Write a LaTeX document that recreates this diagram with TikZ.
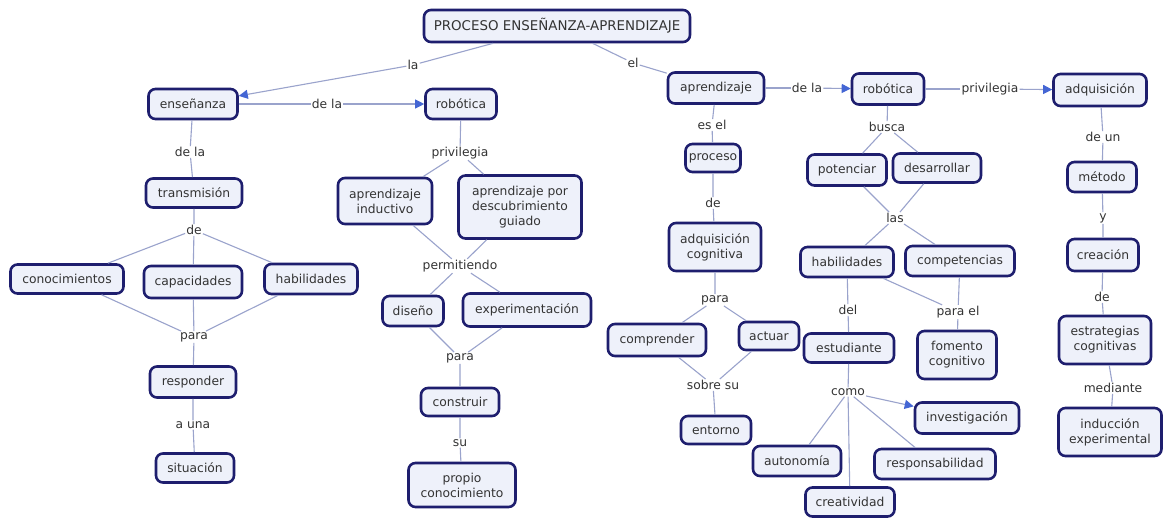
\documentclass[tikz,border=0pt]{standalone}
\usepackage{fontspec}
\setmainfont{DejaVu Sans}
\usetikzlibrary{arrows.meta}

\definecolor{navy}{HTML}{1E1E6E}
\definecolor{boxfill}{HTML}{EEF1FA}
\definecolor{linkgray}{HTML}{9AA3CC}
\definecolor{arrowblue}{HTML}{4466D4}
\definecolor{txt}{HTML}{333333}

\tikzset{
  concept/.style={draw=navy, line width=2.6pt, rounded corners=7pt, fill=boxfill,
    text=txt, font=\fontsize{12.3}{15}\selectfont, align=center, inner sep=0pt},
  linkword/.style={text=txt, font=\fontsize{12.3}{15}\selectfont, inner sep=1pt},
  conn/.style={draw=linkgray, line width=1.1pt},
  arr/.style={conn, -{Triangle[length=9pt,width=9pt,color=arrowblue]}},
}

\begin{document}
\begin{tikzpicture}[x=1pt,y=-1pt]
\fill[white] (0,0) rectangle (1163,519);
\useasboundingbox (0,0) rectangle (1163,519);

% ---------- concepts ----------
\node[concept, minimum width=266, minimum height=32, font=\fontsize{13.4}{15}\selectfont] (title) at (557,26) {PROCESO ENSEÑANZA-APRENDIZAJE};

\node[concept, minimum width=89,  minimum height=30] (ens)   at (193,104) {enseñanza};
\node[concept, minimum width=71,  minimum height=30] (rob1)  at (461,104) {robótica};
\node[concept, minimum width=96,  minimum height=31] (apr)   at (716,88)  {aprendizaje};
\node[concept, minimum width=72,  minimum height=31] (rob2)  at (888,89)  {robótica};
\node[concept, minimum width=93,  minimum height=32] (adq)   at (1100,90) {adquisición};
\node[concept, minimum width=69,  minimum height=30] (met)   at (1102,177) {método};
\node[concept, minimum width=71,  minimum height=32] (crea2) at (1103,255) {creación};
\node[concept, minimum width=92,  minimum height=48] (estr)  at (1105,340) {estrategias\\cognitivas};
\node[concept, minimum width=103, minimum height=48] (indx)  at (1110,432) {inducción\\experimental};

\node[concept, minimum width=79,  minimum height=31] (pot)   at (847,170) {potenciar};
\node[concept, minimum width=88,  minimum height=29] (desa)  at (937,168) {desarrollar};
\node[concept, minimum width=93,  minimum height=30] (hab2)  at (847,262) {habilidades};
\node[concept, minimum width=109, minimum height=30] (comp)  at (960,261) {competencias};
\node[concept, minimum width=90,  minimum height=29] (estu)  at (849,348) {estudiante};
\node[concept, minimum width=79,  minimum height=48] (fom)   at (957,355) {fomento\\cognitivo};
\node[concept, minimum width=104, minimum height=31] (inv)   at (967,418) {investigación};
\node[concept, minimum width=88,  minimum height=30] (aut)   at (797,461) {autonomía};
\node[concept, minimum width=121, minimum height=30] (resp)  at (935,464) {responsabilidad};
\node[concept, minimum width=89,  minimum height=29] (crea)  at (850,502) {creatividad};

\node[concept, minimum width=55,  minimum height=28] (proc)  at (713,158) {proceso};
\node[concept, minimum width=92,  minimum height=48] (adc)   at (715,247) {adquisición\\cognitiva};
\node[concept, minimum width=98,  minimum height=32] (compr) at (657,340) {comprender};
\node[concept, minimum width=60,  minimum height=28] (act)   at (769,336) {actuar};
\node[concept, minimum width=70,  minimum height=28] (ent)   at (716,430) {entorno};

\node[concept, minimum width=94,  minimum height=46] (indu)  at (385,201) {aprendizaje\\inductivo};
\node[concept, minimum width=123, minimum height=63] (desc)  at (520,207) {aprendizaje por\\descubrimiento\\guiado};
\node[concept, minimum width=61,  minimum height=30] (dis)   at (413,311) {diseño};
\node[concept, minimum width=128, minimum height=33] (expe)  at (527,310) {experimentación};
\node[concept, minimum width=78,  minimum height=28] (cons)  at (460,402) {construir};
\node[concept, minimum width=107, minimum height=44] (prop)  at (462,485) {propio\\conocimiento};

\node[concept, minimum width=96,  minimum height=29] (trans) at (194,193) {transmisión};
\node[concept, minimum width=113, minimum height=29] (cono)  at (67,279)  {conocimientos};
\node[concept, minimum width=98,  minimum height=32] (cap)   at (193,282) {capacidades};
\node[concept, minimum width=93,  minimum height=30] (hab1)  at (311,279) {habilidades};
\node[concept, minimum width=86,  minimum height=31] (resp1) at (193,382) {responder};
\node[concept, minimum width=78,  minimum height=29] (sit)   at (195,468) {situación};

% ---------- linking words ----------
\node[linkword] (wla)    at (413,65)  {la};
\node[linkword] (wel)    at (633,63)  {el};
\node[linkword] (wdela1) at (327,104) {de la};
\node[linkword] (wdela2) at (807,88)  {de la};
\node[linkword] (wpriv2) at (990,89)  {privilegia};
\node[linkword] (wdeun)  at (1103,137) {de un};
\node[linkword] (wy)     at (1103,218) {y};
\node[linkword] (wde3)   at (1102,297) {de};
\node[linkword] (wmed)   at (1113,388) {mediante};
\node[linkword] (wbusca) at (887,127) {busca};
\node[linkword] (wlas)   at (895,218) {las};
\node[linkword] (wdel)   at (848,310) {del};
\node[linkword] (wparael) at (958,312) {para el};
\node[linkword] (wcomo)  at (848,392) {como};
\node[linkword] (wesel)  at (712,125) {es el};
\node[linkword] (wde2)   at (713,203) {de};
\node[linkword] (wpara2) at (715,300) {para};
\node[linkword] (wsobre) at (713,385) {sobre su};
\node[linkword] (wpriv1) at (460,153) {privilegia};
\node[linkword] (wperm)  at (460,266) {permitiendo};
\node[linkword] (wpara3) at (460,358) {para};
\node[linkword] (wsu)    at (460,443) {su};
\node[linkword] (wdela3) at (190,152) {de la};
\node[linkword] (wde1)   at (194,230) {de};
\node[linkword] (wpara1) at (194,337) {para};
\node[linkword] (wauna)  at (193,425) {a una};

% ---------- connections ----------
\draw[conn] (title) -- (wla);
\draw[arr]  (wla) -- (ens);
\draw[conn] (title) -- (wel) -- (apr);

% left branch
\draw[conn] (ens) -- (wdela1);
\draw[arr]  (wdela1) -- (rob1);
\draw[conn] (ens) -- (wdela3) -- (trans) -- (wde1);
\draw[conn] (wde1) -- (cono);
\draw[conn] (wde1) -- (cap);
\draw[conn] (wde1) -- (hab1);
\draw[conn] (cono) -- (wpara1);
\draw[conn] (cap) -- (wpara1);
\draw[conn] (hab1) -- (wpara1);
\draw[conn] (wpara1) -- (resp1) -- (wauna) -- (sit);

\draw[conn] (rob1) -- (wpriv1);
\draw[conn] (wpriv1) -- (indu);
\draw[conn] (wpriv1) -- (desc);
\draw[conn] (indu) -- (wperm);
\draw[conn] (desc) -- (wperm);
\draw[conn] (wperm) -- (dis);
\draw[conn] (wperm) -- (expe);
\draw[conn] (dis) -- (wpara3);
\draw[conn] (expe) -- (wpara3);
\draw[conn] (wpara3) -- (cons) -- (wsu) -- (prop);

% middle branch
\draw[conn] (apr) -- (wesel) -- (proc) -- (wde2) -- (adc) -- (wpara2);
\draw[conn] (wpara2) -- (compr);
\draw[conn] (wpara2) -- (act);
\draw[conn] (compr) -- (wsobre);
\draw[conn] (act) -- (wsobre);
\draw[conn] (wsobre) -- (ent);

% right branch
\draw[conn] (apr) -- (wdela2);
\draw[arr]  (wdela2) -- (rob2);
\draw[conn] (rob2) -- (wpriv2);
\draw[arr]  (wpriv2) -- (adq);
\draw[conn] (adq) -- (wdeun) -- (met) -- (wy) -- (crea2) -- (wde3) -- (estr) -- (wmed) -- (indx);

\draw[conn] (rob2) -- (wbusca);
\draw[conn] (wbusca) -- (pot);
\draw[conn] (wbusca) -- (desa);
\draw[conn] (pot) -- (wlas);
\draw[conn] (desa) -- (wlas);
\draw[conn] (wlas) -- (hab2);
\draw[conn] (wlas) -- (comp);
\draw[conn] (hab2) -- (wdel) -- (estu) -- (wcomo);
\draw[conn] (hab2) -- (wparael);
\draw[conn] (comp) -- (wparael);
\draw[conn] (wparael) -- (fom);
\draw[arr]  (wcomo) -- (inv);
\draw[conn] (wcomo) -- (aut);
\draw[conn] (wcomo) -- (crea);
\draw[conn] (wcomo) -- (resp);
\end{tikzpicture}
\end{document}
